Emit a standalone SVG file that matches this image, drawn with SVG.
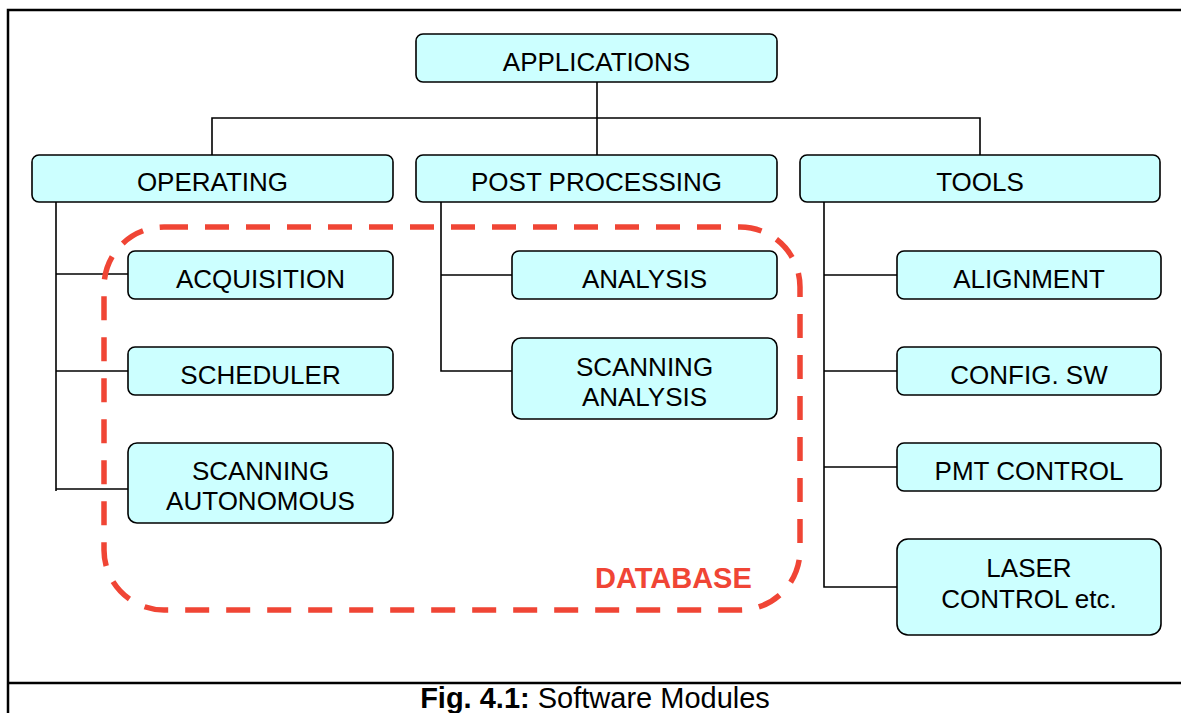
<svg xmlns="http://www.w3.org/2000/svg" width="1181" height="713" viewBox="0 0 1181 713">
  <style>
    .frame { fill: none; stroke: #000; stroke-width: 2.5; }
    .box { fill: #CCFFFF; stroke: #000; stroke-width: 1.6; }
    .lbl { font-family: "Liberation Sans", Arial, sans-serif; font-size: 26px; fill: #000; text-anchor: middle; }
    .wire { fill: none; stroke: #000; stroke-width: 1.6; }
    .db { fill: none; stroke: #F04535; stroke-width: 5.5; stroke-dasharray: 24 17; }
    .dblbl { font-family: "Liberation Sans", Arial, sans-serif; font-size: 29px; font-weight: bold; fill: #F04535; }
    .cap { font-family: "Liberation Sans", Arial, sans-serif; font-size: 29px; fill: #000; text-anchor: middle; }
  </style>

  <rect x="0" y="0" width="1181" height="713" fill="#fff"/>

  <!-- table cell frame -->
  <g id="frame">
    <path class="frame" d="M8 713 V10 H1181"/>
    <path class="frame" d="M8 683 H1181"/>
  </g>

  <!-- tree connectors -->
  <g id="connectors">
    <path class="wire" d="M597 82 V155"/>
    <path class="wire" d="M212 155 V118 H980 V155"/>
    <!-- operating branch -->
    <path class="wire" d="M56 202 V491"/>
    <path class="wire" d="M56 274 H128"/>
    <path class="wire" d="M56 371 H128"/>
    <path class="wire" d="M56 489 H128"/>
    <!-- post processing branch -->
    <path class="wire" d="M441 202 V371 H512"/>
    <path class="wire" d="M441 275 H512"/>
    <!-- tools branch -->
    <path class="wire" d="M824 202 V587 H897"/>
    <path class="wire" d="M824 275 H897"/>
    <path class="wire" d="M824 371 H897"/>
    <path class="wire" d="M824 467 H897"/>
  </g>

  <!-- database boundary -->
  <g id="database">
    <path class="db" d="M164 227 H740 A60 60 0 0 1 800 287 V550 A60 60 0 0 1 740 610 H164 A60 60 0 0 1 104 550 V287 A60 60 0 0 1 164 227 Z"/>
    <text class="dblbl" x="595" y="588">DATABASE</text>
  </g>

  <g id="applications">
    <rect class="box" x="416" y="34" width="361" height="48" rx="7"/>
    <text class="lbl" x="596.5" y="71">APPLICATIONS</text>
  </g>
  <g id="operating">
    <rect class="box" x="32" y="155" width="361" height="47" rx="7"/>
    <text class="lbl" x="212.5" y="191">OPERATING</text>
  </g>
  <g id="post-processing">
    <rect class="box" x="416" y="155" width="361" height="47" rx="7"/>
    <text class="lbl" x="596.5" y="191">POST PROCESSING</text>
  </g>
  <g id="tools">
    <rect class="box" x="800" y="155" width="360" height="47" rx="7"/>
    <text class="lbl" x="980" y="191">TOOLS</text>
  </g>

  <g id="acquisition">
    <rect class="box" x="128" y="251" width="265" height="48" rx="7"/>
    <text class="lbl" x="260.5" y="288">ACQUISITION</text>
  </g>
  <g id="scheduler">
    <rect class="box" x="128" y="347" width="265" height="48" rx="7"/>
    <text class="lbl" x="260.5" y="384">SCHEDULER</text>
  </g>
  <g id="scanning-autonomous">
    <rect class="box" x="128" y="443" width="265" height="80" rx="9"/>
    <text class="lbl" x="260.5" y="480">SCANNING</text>
    <text class="lbl" x="260.5" y="510">AUTONOMOUS</text>
  </g>

  <g id="analysis">
    <rect class="box" x="512" y="251" width="265" height="48" rx="7"/>
    <text class="lbl" x="644.5" y="288">ANALYSIS</text>
  </g>
  <g id="scanning-analysis">
    <rect class="box" x="512" y="338" width="265" height="81" rx="9"/>
    <text class="lbl" x="644.5" y="376">SCANNING</text>
    <text class="lbl" x="644.5" y="406">ANALYSIS</text>
  </g>

  <g id="alignment">
    <rect class="box" x="897" y="251" width="264" height="48" rx="7"/>
    <text class="lbl" x="1029" y="288">ALIGNMENT</text>
  </g>
  <g id="config-sw">
    <rect class="box" x="897" y="347" width="264" height="48" rx="7"/>
    <text class="lbl" x="1029" y="384">CONFIG. SW</text>
  </g>
  <g id="pmt-control">
    <rect class="box" x="897" y="443" width="264" height="48" rx="7"/>
    <text class="lbl" x="1029" y="480">PMT CONTROL</text>
  </g>
  <g id="laser-control">
    <rect class="box" x="897" y="539" width="264" height="96" rx="11"/>
    <text class="lbl" x="1029" y="577">LASER</text>
    <text class="lbl" x="1029" y="608">CONTROL etc.</text>
  </g>

  <!-- caption -->
  <text class="cap" x="595" y="708"><tspan font-weight="bold">Fig. 4.1:</tspan> Software Modules</text>
</svg>
